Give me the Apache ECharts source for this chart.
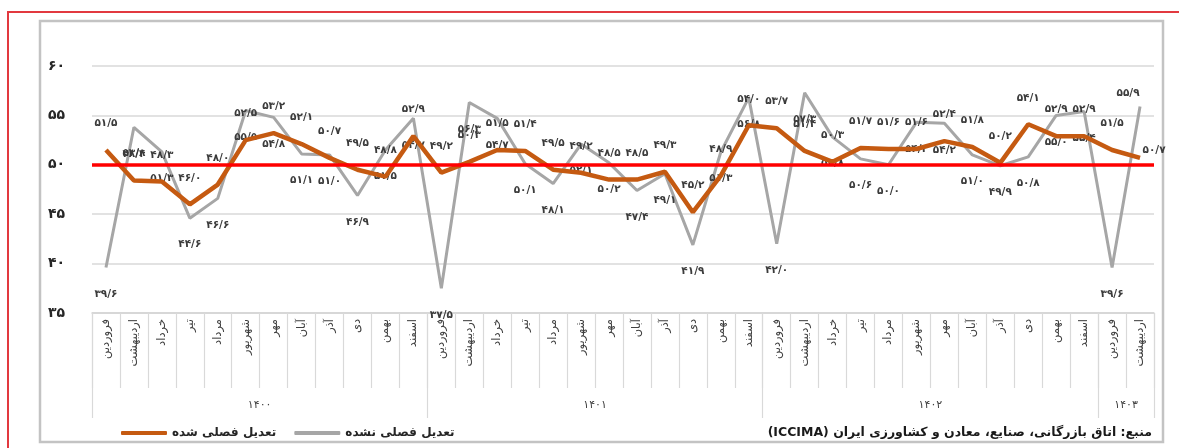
<!DOCTYPE html>
<html>
<head>
<meta charset="utf-8">
<script src="https://cdn.jsdelivr.net/npm/echarts@6/dist/echarts.min.js"></script>
<style>
html,body{margin:0;padding:0;background:#fff;}
#c{width:1179px;height:448px;}
</style>
</head>
<body>
<div id="c"></div>
<script>
// ---- data ----
const monthNames = ['فروردین','اردیبهشت','خرداد','تیر','مرداد','شهریور','مهر','آبان','آذر','دی','بهمن','اسفند'];
const yearLabels = ['۱۴۰۰','۱۴۰۱','۱۴۰۲','۱۴۰۳'];
const monthsPerYear = [12, 12, 12, 2];
const seriesNames = ['تعدیل فصلی شده', 'تعدیل فصلی نشده'];
const seasonallyAdjusted = [51.5, 48.4, 48.3, 46.0, 48.0, 52.5, 53.2, 52.1, 50.7, 49.5, 48.8, 52.9,
                            49.2, 50.3, 51.5, 51.4, 49.5, 49.2, 48.5, 48.5, 49.3, 45.2, 48.9, 54.0,
                            53.7, 51.4, 50.3, 51.7, 51.6, 51.6, 52.4, 51.8, 50.2, 54.1, 52.9, 52.9,
                            51.5, 50.7];
const notAdjusted = [39.6, 53.8, 51.3, 44.6, 46.6, 55.5, 54.8, 51.1, 51.0, 46.9, 51.5, 54.7,
                     37.5, 56.3, 54.7, 50.1, 48.1, 52.1, 50.2, 47.4, 49.1, 41.9, 51.3, 56.8,
                     42.0, 57.3, 52.8, 50.6, 50.0, 54.3, 54.2, 51.0, 49.9, 50.8, 55.0, 55.4,
                     39.6, 55.9];
const yMin = 35, yMax = 60, yStep = 5;
const threshold = 50;
const sourceText = 'منبع: اتاق بازرگانی، صنایع، معادن و کشاورزی ایران (ICCIMA)';

// ---- derived ----
const categories = [];
yearLabels.forEach((y, k) => { for (let m = 0; m < monthsPerYear[k]; m++) categories.push(monthNames[m]); });
const yearBounds = [0];
monthsPerYear.forEach(n => yearBounds.push(yearBounds[yearBounds.length - 1] + n));
const yearCenters = monthsPerYear.map((n, k) => yearBounds[k] + n / 2);
const faDigits = '۰۱۲۳۴۵۶۷۸۹';
const toFa = s => String(s).replace(/\d/g, d => faDigits[d]);
const fmtVal = v => toFa(v.toFixed(1).replace('.', '/'));

const FONT = 'DejaVu Sans';
const labelFont = {fontFamily: FONT, fontSize: 10.5, fontWeight: 'bold', color: '#3b3b3b'};

const lastIdx = categories.length - 1;
const orangeData = seasonallyAdjusted.map((v, i) => i === lastIdx
  ? {value: v, label: {position: 'top', distance: 2, offset: [14, 0]}} : v);
const grayData = notAdjusted.map((v, i) => i === lastIdx
  ? {value: v, label: {position: 'top', distance: 8, offset: [-12, 0]}} : v);

const chart = echarts.init(document.getElementById('c'), null, {renderer: 'canvas'});
chart.setOption({
  animation: false,
  backgroundColor: '#fff',
  textStyle: {fontFamily: FONT},
  graphic: [
    {type: 'rect', shape: {x: 40, y: 21, width: 1123, height: 421}, style: {fill: 'none', stroke: '#c3c3c3', lineWidth: 2.5}, z: -10},
    {type: 'polyline', shape: {points: [[8, 448], [8, 12], [1179, 12]]}, style: {fill: 'none', stroke: '#e2393f', lineWidth: 2}, z: -10}
  ],
  title: {
    text: '\u202B' + sourceText + '\u202C',
    right: 22, top: 421,
    textStyle: {fontFamily: FONT, fontSize: 12.5, fontWeight: 'bold', color: '#1a1a1a'}
  },
  legend: {
    left: 116, top: 422,
    itemWidth: 46, itemHeight: 4, itemGap: 18,
    icon: 'roundRect',
    data: [seriesNames[0], seriesNames[1]],
    textStyle: {fontFamily: FONT, fontSize: 12, fontWeight: 'bold', color: '#262626'}
  },
  grid: {left: 92, right: 25, top: 66, bottom: 135, containLabel: false},
  xAxis: [
    {
      type: 'category', data: categories, position: 'bottom', boundaryGap: true,
      axisLine: {show: true, lineStyle: {color: '#d4d4d4', width: 1.5}},
      axisTick: {show: true, interval: 0, length: 75, lineStyle: {color: '#d9d9d9', width: 1.2}},
      axisLabel: {interval: 0, rotate: 90, margin: 6, fontFamily: FONT, fontSize: 11.5, color: '#404040'}
    },
    {
      type: 'value', min: 0, max: categories.length, position: 'bottom', offset: 0,
      axisLine: {show: false},
      splitLine: {show: false},
      axisTick: {show: true, customValues: yearBounds, length: 105, lineStyle: {color: '#d9d9d9', width: 1.2}},
      axisLabel: {
        customValues: yearCenters, margin: 87, fontFamily: FONT, fontSize: 11, color: '#404040',
        formatter: v => { const k = yearCenters.indexOf(v); return k >= 0 ? yearLabels[k] : ''; }
      }
    }
  ],
  yAxis: {
    type: 'value', min: yMin, max: yMax, interval: yStep,
    axisLine: {show: false}, axisTick: {show: false},
    splitLine: {lineStyle: {color: '#d9d9d9', width: 1.5}},
    axisLabel: {margin: 27, fontFamily: FONT, fontSize: 14, fontWeight: 'bold', color: '#262626', formatter: v => toFa(v)}
  },
  series: [
    {
      name: seriesNames[1], type: 'line', data: grayData, xAxisIndex: 0,
      symbol: 'circle', symbolSize: 0, showSymbol: true,
      lineStyle: {color: '#a6a6a6', width: 3}, itemStyle: {color: '#a6a6a6'},
      label: Object.assign({show: true, position: 'bottom', distance: 21, formatter: p => fmtVal(p.value)}, labelFont),
      z: 2
    },
    {
      name: seriesNames[0], type: 'line', data: orangeData, xAxisIndex: 0,
      symbol: 'circle', symbolSize: 0, showSymbol: true,
      lineStyle: {color: '#c55a11', width: 4.5}, itemStyle: {color: '#c55a11'},
      label: Object.assign({show: true, position: 'top', distance: 21, formatter: p => fmtVal(p.value)}, labelFont),
      markLine: {
        silent: true, symbol: 'none', label: {show: false},
        lineStyle: {color: '#ff0000', width: 3.5, type: 'solid'},
        data: [{yAxis: threshold}], z: 10
      },
      z: 3
    }
  ]
});
</script>
</body>
</html>
